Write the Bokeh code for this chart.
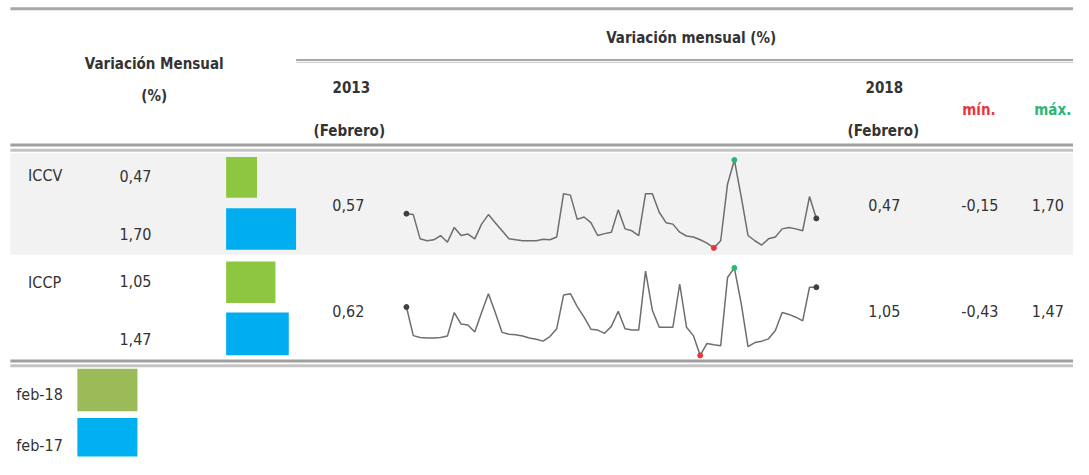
import numpy as np
from bokeh.plotting import figure
from bokeh.models import Range1d
from bokeh.core.properties import value
from bokeh.embed import file_html
from bokeh.resources import INLINE

# ---------------- data ----------------
categories = ["ICCV", "ICCP"]
feb18 = [0.47, 1.05]
feb17 = [1.70, 1.47]
first_2013 = [0.57, 0.62]
last_2018 = [0.47, 1.05]
min_vals = [-0.15, -0.43]
max_vals = [1.70, 1.47]

iccv_series = [0.57, 0.55, 0.04, 0.00, 0.02, 0.11, -0.03, 0.28, 0.11, 0.14,
               0.04, 0.35, 0.55, 0.38, 0.21, 0.04, 0.02, 0.00, 0.00, 0.00,
               0.03, 0.02, 0.08, 0.99, 0.96, 0.45, 0.50, 0.38, 0.11, 0.15,
               0.18, 0.65, 0.25, 0.21, 0.11, 0.99, 0.99, 0.60, 0.38, 0.35,
               0.18, 0.10, 0.08, 0.02, -0.05, -0.15, 0.00, 1.19, 1.70, 0.93,
               0.11, 0.00, -0.09, 0.04, 0.08, 0.25, 0.28, 0.25, 0.21, 0.93,
               0.47]
iccp_series = [0.62, 0.00, -0.04, -0.05, -0.05, -0.04, -0.01, 0.50, 0.25, 0.23,
               0.08, 0.50, 0.91, 0.50, 0.07, 0.03, 0.02, -0.01, -0.05, -0.08,
               -0.12, -0.02, 0.15, 0.88, 0.91, 0.63, 0.40, 0.14, 0.12, 0.05,
               0.20, 0.53, 0.15, 0.12, 0.12, 1.40, 0.55, 0.18, 0.18, 0.18,
               1.12, 0.18, 0.00, -0.43, -0.17, -0.20, -0.22, 1.26, 1.47, 0.70,
               -0.24, -0.15, -0.12, -0.07, 0.11, 0.50, 0.46, 0.40, 0.32, 1.05,
               1.05]
series = [iccv_series, iccp_series]

legend_labels = ["feb-18", "feb-17"]

header_left = ["Variación Mensual", "(%)"]
header_top = "Variación mensual (%)"
col_2013 = ["2013", "(Febrero)"]
col_2018 = ["2018", "(Febrero)"]
col_min = "mín."
col_max = "máx."

BAR_BASE = -0.5

# ---------------- layout / style ----------------
W, H = 1073, 459
X0, X1, Y0, Y1 = 0, 1089, 0, 475   # layout coordinate space (reference pixels)
FONT = value("DejaVu Sans Condensed")
TXT = "#333333"
GREEN = "#8dc63f"
BLUE = "#00aeef"
LEG_GREEN = "#9bbb59"
LEG_BLUE = "#00b0f0"
RED = "#e8363a"
MAXG = "#2bb673"

p = figure(width=W, height=H, output_backend="svg", toolbar_location=None,
           x_range=Range1d(X0, X1), y_range=Range1d(Y1, Y0),
           min_border=0, outline_line_color=None)
p.axis.visible = False
p.grid.visible = False
p.background_fill_color = "white"
p.border_fill_color = "white"

# row shading
p.quad(left=[10], right=[1089], top=[158], bottom=[263], fill_color="#f2f2f2", line_color=None)

# rules
def hline(x0, x1, y, w, c):
    p.segment(x0=[x0], x1=[x1], y0=[y], y1=[y], line_width=w, line_color=c)

hline(10, 1089, 8.5, 3, "#a8a8a8")
hline(300, 1089, 61.5, 2, "#a8a8a8")
hline(300, 1089, 64, 1, "#c8c8c8")
hline(10, 1089, 149.5, 3, "#a0a0a0")
hline(10, 1089, 155, 3, "#c4c4c4")
hline(10, 1089, 373, 3, "#a0a0a0")
hline(10, 1089, 378, 3, "#c4c4c4")

def txt(x, y, s, size="16px", color=TXT, bold=False, align="center"):
    p.text(x=[x], y=[y], text=[s], text_font=FONT, text_font_size=size,
           text_color=color, text_align=align, text_baseline="middle",
           text_font_style="bold" if bold else "normal")

HS = "15px"
NS = "16px"
# headers
txt(156, 66, header_left[0], HS, bold=True)
txt(156, 99, header_left[1], HS, bold=True)
txt(701, 39, header_top, HS, bold=True)
txt(356, 89, col_2013[0], HS, bold=True)
txt(354, 135, col_2013[1], HS, bold=True)
txt(897, 89, col_2018[0], HS, bold=True)
txt(896, 135, col_2018[1], HS, bold=True)
txt(993, 113, col_min, HS, color=RED, bold=True)
txt(1068, 113, col_max, HS, color=MAXG, bold=True)

fmt = lambda v: f"{v:.2f}".replace(".", ",")

# bars scale (extra x range)
bar_max = max(max(feb18), max(feb17))
bx0, bx1 = 229, 300
bppx = (bar_max - BAR_BASE) / (bx1 - bx0)
p.extra_x_ranges["bars"] = Range1d(BAR_BASE - (bx0 - X0) * bppx, bar_max + (X1 - bx1) * bppx)

row_label_y = [181, 292]
row_g = [(162, 204), (270, 313)]
row_b = [(215, 258), (323, 367)]
row_mid = [212, 321]
spark_band = [(165, 256), (276.7, 367.3)]
sx0, sx1 = 412, 828

for i, cat in enumerate(categories):
    txt(28, row_label_y[i], cat, NS, align="left")
    txt(137, (row_g[i][0] + row_g[i][1]) / 2 - 1, fmt(feb18[i]), NS)
    txt(137, (row_b[i][0] + row_b[i][1]) / 2 + 5, fmt(feb17[i]), NS)
    p.quad(left=[BAR_BASE], right=[feb18[i]], top=[row_g[i][0]], bottom=[row_g[i][1]],
           fill_color=GREEN, line_color=None, x_range_name="bars")
    p.quad(left=[BAR_BASE], right=[feb17[i]], top=[row_b[i][0]], bottom=[row_b[i][1]],
           fill_color=BLUE, line_color=None, x_range_name="bars")
    txt(353, row_mid[i], fmt(first_2013[i]), NS)
    txt(897, row_mid[i], fmt(last_2018[i]), NS)
    txt(994, row_mid[i], fmt(min_vals[i]), NS)
    txt(1063, row_mid[i], fmt(max_vals[i]), NS)

    # sparkline ranges
    s = np.array(series[i])
    n = len(s)
    xppx = (n - 1) / (sx1 - sx0)
    xr = f"sx{i}"
    yr = f"sy{i}"
    p.extra_x_ranges[xr] = Range1d(0 - (sx0 - X0) * xppx, (n - 1) + (X1 - sx1) * xppx)
    yt, yb = spark_band[i]
    vmin, vmax = s.min(), s.max()
    yppx = (vmax - vmin) / (yb - yt)
    p.extra_y_ranges[yr] = Range1d(vmin - (Y1 - yb) * yppx, vmax + (yt - Y0) * yppx)
    idx = np.arange(n)
    p.line(idx, s, line_color="#6e6e6e", line_width=1.5, x_range_name=xr, y_range_name=yr)
    p.scatter([0, n - 1], [s[0], s[-1]], size=5, color="#404040", x_range_name=xr, y_range_name=yr)
    p.scatter([int(s.argmin())], [vmin], size=5, color=RED, x_range_name=xr, y_range_name=yr)
    p.scatter([int(s.argmax())], [vmax], size=5, color=MAXG, x_range_name=xr, y_range_name=yr)

# legend
p.quad(left=[78], right=[139], top=[381], bottom=[425], fill_color=LEG_GREEN, line_color=None)
p.quad(left=[78], right=[139], top=[432], bottom=[472], fill_color=LEG_BLUE, line_color=None)
txt(16, 408, legend_labels[0], NS, align="left")
txt(16, 461, legend_labels[1], NS, align="left")

open("out.html", "w").write(file_html(p, INLINE))
